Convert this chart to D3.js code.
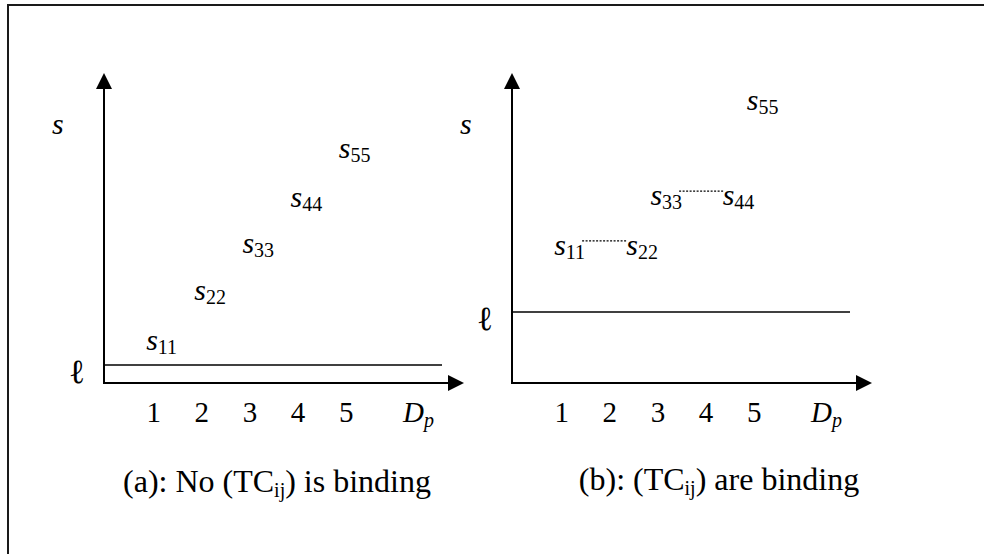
<!doctype html>
<html>

<head>
    <meta charset="utf-8">
    <title>Binding constraints</title>
    <style>
        body { margin: 0; background: #fff; }
        svg { display: block; font-family: "Liberation Serif", "Times New Roman", serif; }
    </style>
</head>

<body>
    <svg width="984" height="554"></svg>
    <script src="https://cdn.jsdelivr.net/npm/d3@7"></script>
    <script>
    // tick labels on the D_p axis
    var ticks = [1, 2, 3, 4, 5];

    // panel (a): no constraint binding
    var labelsA = ["11", "22", "33", "44", "55"];
    var posA = [1, 2, 3, 4, 5];
    var levelA = [1.06, 2.68, 4.19, 5.68, 7.26];
    var ellA = 0.58;
    var pairsA = [];

    // panel (b): constraints binding, pairs share the same level
    var labelsB = ["11", "22", "33", "44", "55"];
    var posB = [1, 2.5, 3, 4.5, 5];
    var levelB = [4.13, 4.13, 5.74, 5.74, 8.81];
    var ellB = 2.29;
    var pairsB = [[0, 1], [2, 3]];

    var width = 984;
    var height = 554;
    var originY = 383;

    var svg = d3.select("svg")
        .attr("width", width)
        .attr("height", height);

    // frame: only the top and left edges show in the crop
    svg.append("path")
        .attr("d", "M8," + height + "V5H" + width)
        .attr("fill", "none")
        .attr("stroke", "#1a1a1a")
        .attr("stroke-width", 2);

    function drawPanel(opt) {
        var x0 = opt.x0;

        var x = d3.scaleLinear()
            .domain([0, 7])
            .range([x0 + 1, x0 + 1 + 337]);

        var y = d3.scaleLinear()
            .domain([0, 10])
            .range([originY, originY - 310]);

        var g = svg.append("g");

        // x axis, only used for the numbers under it
        var xAxis = d3.axisBottom(x)
            .tickValues(ticks)
            .tickSize(0)
            .tickFormat(d3.format("d"));

        var ax = g.append("g")
            .attr("transform", "translate(0," + originY + ")")
            .call(xAxis);
        ax.select(".domain").remove();
        ax.selectAll("text")
            .attr("y", 39)
            .attr("dy", null)
            .attr("fill", "#000")
            .style("font-family", "Liberation Serif, Times New Roman, serif")
            .style("font-size", "29px");

        // D_p label
        var dp = g.append("text")
            .attr("x", x0 + 299)
            .attr("y", originY + 39)
            .style("font-size", "29px")
            .style("font-style", "italic");
        dp.append("tspan").text("D");
        dp.append("tspan").attr("dy", 5).style("font-size", "20px").text("p");

        // axis lines with arrow heads
        var tipX = x0 + 360;
        var tipY = y(10);
        g.append("line")
            .attr("x1", x0 - 1).attr("y1", originY)
            .attr("x2", tipX - 14).attr("y2", originY)
            .attr("stroke", "#000").attr("stroke-width", 2);
        g.append("line")
            .attr("x1", x0).attr("y1", originY + 1)
            .attr("x2", x0).attr("y2", tipY + 14)
            .attr("stroke", "#000").attr("stroke-width", 2);
        g.append("path")
            .attr("d", "M" + tipX + "," + originY + "l-16,-8v16z")
            .attr("fill", "#000");
        g.append("path")
            .attr("d", "M" + x0 + "," + tipY + "l-8,16h16z")
            .attr("fill", "#000");

        // axis name s
        g.append("text")
            .attr("x", x0 - 52)
            .attr("y", 134)
            .style("font-size", "30px")
            .style("font-style", "italic")
            .text("s");

        // lower bound line l
        g.append("line")
            .attr("x1", x(0) - 1).attr("x2", x(7))
            .attr("y1", y(opt.ell)).attr("y2", y(opt.ell))
            .attr("stroke", "#000").attr("stroke-width", 1.6);
        g.append("text")
            .attr("x", x0 - 27)
            .attr("y", y(opt.ell) + 18)
            .attr("text-anchor", "middle")
            .style("font-size", "34px")
            .text("\u2113");

        // the s_ii labels
        var labels = g.selectAll("text.sii")
            .data(opt.labels)
            .enter().append("text")
            .attr("class", "sii")
            .attr("x", function(d, i) { return x(opt.pos[i]) - 7; })
            .attr("y", function(d, i) { return y(opt.level[i]); });
        labels.append("tspan")
            .style("font-size", "30px")
            .style("font-style", "italic")
            .text("s");
        labels.append("tspan")
            .attr("dy", 4)
            .style("font-size", "20px")
            .text(function(d) { return d; });

        // dotted links between labels that sit on one level
        var nodes = labels.nodes();
        opt.pairs.forEach(function(p) {
            var a = nodes[p[0]].getBBox();
            var b = nodes[p[1]].getBBox();
            var ly = y(opt.level[p[0]]) - 14;
            g.append("line")
                .attr("x1", a.x + a.width - 3).attr("x2", b.x + 1)
                .attr("y1", ly).attr("y2", ly)
                .attr("stroke", "#000")
                .attr("stroke-width", 1.3)
                .attr("stroke-dasharray", "2,1.5");
        });

        // caption
        var cap = g.append("text")
            .attr("x", opt.capX)
            .attr("y", opt.capY)
            .attr("text-anchor", "middle")
            .style("font-size", "32px");
        cap.append("tspan").text(opt.caption[0]);
        cap.append("tspan").attr("dy", 5).style("font-size", "20px").text("ij");
        cap.append("tspan").attr("dy", -5).text(opt.caption[1]);
    }

    drawPanel({
        x0: 104, labels: labelsA, pos: posA, level: levelA, ell: ellA, pairs: pairsA,
        capX: 277, capY: 492, caption: ["(a): No (TC", ") is binding"]
    });

    drawPanel({
        x0: 512, labels: labelsB, pos: posB, level: levelB, ell: ellB, pairs: pairsB,
        capX: 719, capY: 490, caption: ["(b): (TC", ") are binding"]
    });
    </script>
</body>

</html>
